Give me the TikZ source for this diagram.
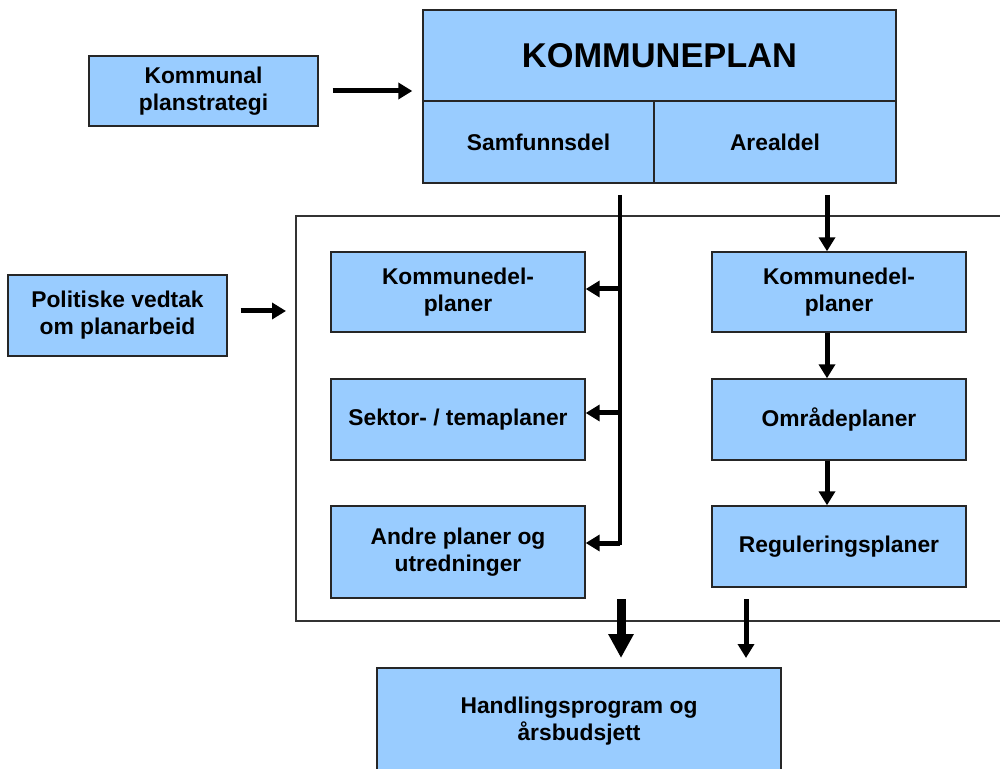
\documentclass[tikz,border=0pt]{standalone}
\usepackage{fontspec}
\setmainfont{Liberation Sans}
\usetikzlibrary{arrows.meta,calc}

\definecolor{boxblue}{HTML}{99CCFF}

\begin{document}
\begin{tikzpicture}[x=0.5pt,y=-0.5pt,
        box/.style={draw=black!85,line width=0.7pt,fill=boxblue,
            inner sep=2pt,align=center,
            font=\fontsize{11.4}{13.5}\selectfont\bfseries},
        arr/.style={line width=2.5pt,-{Triangle[length=7pt,width=8pt]}},
        bigarr/.style={line width=4.5pt,-{Triangle[length=12pt,width=12pt]}},
        spine/.style={line width=2.2pt}]
    \useasboundingbox (0,0) rectangle (1000,769);

    % frame round the plans
    \draw[black!80,line width=0.8pt] (1002,216) -- (296,216) -- (296,621) -- (1002,621);

    % kommuneplan
    \node[box,minimum width=236.5pt,minimum height=45.5pt,
        font=\fontsize{17.2}{20}\selectfont\bfseries] (plan) at (659.5,55.5) {KOMMUNEPLAN};
    \node[box,minimum width=115.5pt,minimum height=41pt] (samf) at (538.5,142) {Samfunnsdel};
    \node[box,minimum width=121pt,minimum height=41pt] (areal) at (775,142) {Arealdel};

    \node[box,minimum width=114.5pt,minimum height=35pt] (strat) at (203.5,91) {Kommunal\\planstrategi};
    \node[box,minimum width=109.5pt,minimum height=40.5pt] (pol) at (117.5,315.5) {Politiske vedtak\\om planarbeid};

    % left column
    \node[box,minimum width=127pt,minimum height=40pt] (kdl) at (458,292) {Kommunedel-\\planer};
    \node[box,minimum width=127pt,minimum height=40.5pt] (sekt) at (458,419.5) {Sektor- / temaplaner};
    \node[box,minimum width=127pt,minimum height=46pt] (andre) at (458,552) {Andre planer og\\utredninger};

    % right column
    \node[box,minimum width=127pt,minimum height=40pt] (kdr) at (839,292) {Kommunedel-\\planer};
    \node[box,minimum width=127pt,minimum height=40.5pt] (omr) at (839,419.5) {Områdeplaner};
    \node[box,minimum width=127pt,minimum height=40.5pt] (reg) at (839,546.5) {Reguleringsplaner};

    \node[box,minimum width=202pt,minimum height=53.5pt] (hand) at (579,721.5) {Handlingsprogram og\\årsbudsjett};

    % arrows
    \coordinate (s1) at (620,195);
    \coordinate (s2) at (620,545);
    \coordinate (r1) at (827,195);
    \coordinate (f) at (286,311);
    \coordinate (b1) at (621,599);
    \coordinate (b1e) at (621,658);
    \coordinate (b2) at (746,599);
    \coordinate (b2e) at (746,658);

    \draw[arr] ($(strat.east)+(14,0)$) -- ($(plan.west |- strat)+(-10,0)$);
    \draw[arr] ($(pol.east |- f)+(13,0)$) -- (f);

    \draw[spine] (s1) -- (s2);
    \draw[arr] (s1 |- 0,289) -- (kdl.east |- 0,289);
    \draw[arr] (s1 |- 0,413) -- (sekt.east |- 0,413);
    \draw[arr] (s1 |- 0,543) -- (andre.east |- 0,543);

    \draw[arr] (r1) -- (r1 |- kdr.north);
    \draw[arr] (r1 |- kdr.south) -- (r1 |- omr.north);
    \draw[arr] (r1 |- omr.south) -- (r1 |- reg.north);

    \draw[bigarr] (b1) -- (b1e);
    \draw[arr] (b2) -- (b2e);
\end{tikzpicture}
\end{document}
